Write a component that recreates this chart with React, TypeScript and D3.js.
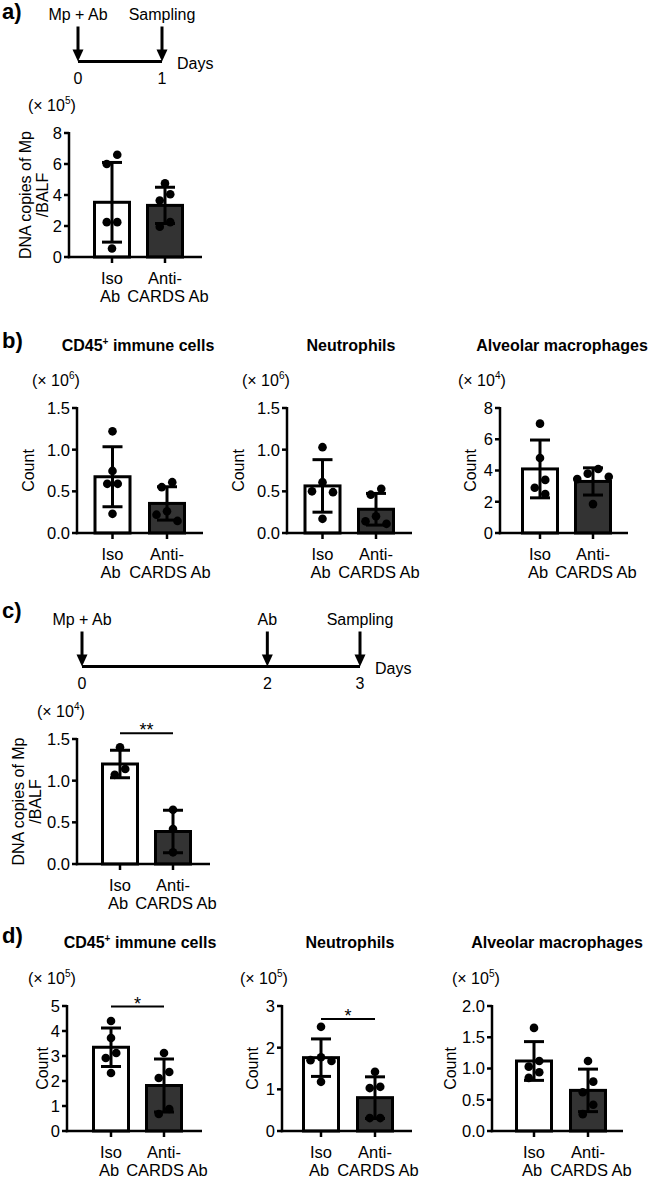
import React from "react";
import * as d3 from "d3";

// ---------- shared categories ----------
const categories = ["Iso Ab", "Anti-CARDS Ab"];
const categoryLines: Record<string, string[]> = {
  "Iso Ab": ["Iso", "Ab"],
  "Anti-CARDS Ab": ["Anti-", "CARDS Ab"],
};
const cellTypes = ["CD45⁺ immune cells", "Neutrophils", "Alveolar macrophages"];
const mpTitle = ["DNA copies of Mp", "/BALF"];
const countTitle = ["Count"];

// ---------- timelines ----------
const timelineADays = [0, 1];
const timelineAEvents = ["Mp + Ab", "Sampling"];
const timelineCDays = [0, 2, 3];
const timelineCEvents = ["Mp + Ab", "Ab", "Sampling"];

// ---------- a) Mp DNA, day 1 (x10^5) ----------
const aIso = [6.6, 6.0, 2.25, 2.25, 0.55];
const aAnti = [4.75, 4.05, 3.65, 2.25, 1.95];
const aMean = [3.53, 3.33];
const aSD = [2.57, 1.17];
const aTicks = [0, 2, 4, 6, 8];

// ---------- b) day 1 cells ----------
const bCd45Iso = [1.22, 0.745, 0.59, 0.59, 0.23];
const bCd45Anti = [0.61, 0.55, 0.26, 0.22, 0.145];
const bCd45Mean = [0.675, 0.355];
const bCd45SD = [0.36, 0.2];
const bNeuIso = [1.03, 0.61, 0.5, 0.49, 0.17];
const bNeuAnti = [0.53, 0.46, 0.2, 0.14, 0.11];
const bNeuMean = [0.565, 0.285];
const bNeuSD = [0.315, 0.19];
const bAmIso = [7.0, 4.8, 3.4, 2.9, 2.5];
const bAmAnti = [4.1, 3.8, 3.6, 3.45, 1.85];
const bAmMean = [4.1, 3.3];
const bAmSD = [1.85, 0.87];
const b106Ticks = [0, 0.5, 1.0, 1.5];
const bAmTicks = [0, 2, 4, 6, 8];

// ---------- c) Mp DNA, day 3 (x10^4) ----------
const cIso = [1.4, 1.14, 1.07];
const cAnti = [0.65, 0.42, 0.14];
const cMean = [1.2, 0.39];
const cSD = [0.165, 0.255];
const cTicks = [0, 0.5, 1.0, 1.5];

// ---------- d) day 3 cells (x10^5) ----------
const dCd45Iso = [4.4, 3.72, 3.12, 2.92, 2.32];
const dCd45Anti = [3.12, 2.36, 2.12, 0.88, 0.68];
const dCd45Mean = [3.35, 1.82];
const dCd45SD = [0.77, 1.06];
const dCd45Ticks = [0, 1, 2, 3, 4, 5];
const dNeuIso = [2.5, 1.77, 1.7, 1.68, 1.18];
const dNeuAnti = [1.42, 1.06, 1.03, 0.31, 0.31];
const dNeuMean = [1.76, 0.8];
const dNeuSD = [0.45, 0.5];
const dNeuTicks = [0, 1, 2, 3];
const dAmIso = [1.65, 1.12, 1.03, 0.94, 0.85];
const dAmAnti = [1.12, 0.79, 0.62, 0.42, 0.27];
const dAmMean = [1.12, 0.65];
const dAmSD = [0.31, 0.34];
const dAmTicks = [0, 0.5, 1.0, 1.5, 2.0];

// significance annotations: label and bracket height in data units
const cSig = { label: "**", at: 1.57 };
const dCd45Sig = { label: "*", at: 4.98 };
const dNeuSig = { label: "*", at: 2.69 };

// ---------- layout ----------
type Layout = {
  axisX: number; xEnd: number; c0: number; c1: number; yTop: number; yBot: number;
  unitX: number; titleXs: number[]; titleCx?: number; titleY?: number;
};
type Cfg = {
  iso: number[]; anti: number[]; mean: number[]; sd: number[]; ticks: number[];
  fmt: string; exp: string; yTitle: string[]; title?: string;
  sig?: { label: string; at: number }; L: Layout;
};

const FONT = "'Liberation Sans', Arial, Helvetica, sans-serif";

const charts: Cfg[] = [
  { iso: aIso, anti: aAnti, mean: aMean, sd: aSD, ticks: aTicks, fmt: "d", exp: "5", yTitle: mpTitle,
    L: { axisX: 69, xEnd: 202, c0: 112, c1: 165, yTop: 133, yBot: 257, unitX: 28, titleXs: [25, 42] } },
  { iso: bCd45Iso, anti: bCd45Anti, mean: bCd45Mean, sd: bCd45SD, ticks: b106Ticks, fmt: ".1f", exp: "6",
    yTitle: countTitle, title: cellTypes[0],
    L: { axisX: 77, xEnd: 203, c0: 112.5, c1: 167, yTop: 408, yBot: 533, unitX: 32, titleXs: [28], titleCx: 138, titleY: 351 } },
  { iso: bNeuIso, anti: bNeuAnti, mean: bNeuMean, sd: bNeuSD, ticks: b106Ticks, fmt: ".1f", exp: "6",
    yTitle: countTitle, title: cellTypes[1],
    L: { axisX: 287, xEnd: 412, c0: 322.5, c1: 376, yTop: 408, yBot: 533, unitX: 242, titleXs: [238], titleCx: 351, titleY: 351 } },
  { iso: bAmIso, anti: bAmAnti, mean: bAmMean, sd: bAmSD, ticks: bAmTicks, fmt: "d", exp: "4",
    yTitle: countTitle, title: cellTypes[2],
    L: { axisX: 500, xEnd: 628, c0: 540, c1: 593, yTop: 408, yBot: 533, unitX: 458, titleXs: [470], titleCx: 562, titleY: 351 } },
  { iso: cIso, anti: cAnti, mean: cMean, sd: cSD, ticks: cTicks, fmt: ".1f", exp: "4", yTitle: mpTitle, sig: cSig,
    L: { axisX: 77, xEnd: 210, c0: 120, c1: 173, yTop: 739, yBot: 864, unitX: 37, titleXs: [18, 35] } },
  { iso: dCd45Iso, anti: dCd45Anti, mean: dCd45Mean, sd: dCd45SD, ticks: dCd45Ticks, fmt: "d", exp: "5",
    yTitle: countTitle, title: cellTypes[0], sig: dCd45Sig,
    L: { axisX: 67, xEnd: 202, c0: 111, c1: 164, yTop: 1006, yBot: 1131, unitX: 28, titleXs: [42], titleCx: 140, titleY: 948 } },
  { iso: dNeuIso, anti: dNeuAnti, mean: dNeuMean, sd: dNeuSD, ticks: dNeuTicks, fmt: "d", exp: "5",
    yTitle: countTitle, title: cellTypes[1], sig: dNeuSig,
    L: { axisX: 282, xEnd: 412, c0: 321, c1: 375, yTop: 1006, yBot: 1131, unitX: 240, titleXs: [252], titleCx: 350, titleY: 948 } },
  { iso: dAmIso, anti: dAmAnti, mean: dAmMean, sd: dAmSD, ticks: dAmTicks, fmt: ".1f", exp: "5",
    yTitle: countTitle, title: cellTypes[2],
    L: { axisX: 492, xEnd: 623, c0: 534, c1: 588, yTop: 1006, yBot: 1131, unitX: 452, titleXs: [450], titleCx: 557, titleY: 948 } },
];

// Prism-like scatter: greedy placement in rows, then each touching cluster centred
function swarm(values: number[], y: (v: number) => number, s = 10.5, ty = 10.7): number[] {
  const order = values.map((_, i) => i).sort((a, b) => values[b] - values[a]);
  const placed: { i: number; py: number; dx: number }[] = [];
  const cands = [0, -s, s, -2 * s, 2 * s, -3 * s, 3 * s];
  for (const i of order) {
    const py = y(values[i]);
    let chosen = 0;
    for (const c of cands) {
      const hit = placed.some((p) => Math.abs(p.py - py) < ty && Math.abs(p.dx - c) < s * 0.9);
      if (!hit) { chosen = c; break; }
    }
    placed.push({ i, py, dx: chosen });
  }
  const parent = placed.map((_, k) => k);
  const find = (k: number): number => (parent[k] === k ? k : (parent[k] = find(parent[k])));
  for (let a = 0; a < placed.length; a++)
    for (let b = a + 1; b < placed.length; b++)
      if (Math.abs(placed[a].py - placed[b].py) < ty && Math.abs(placed[a].dx - placed[b].dx) <= s + 0.01)
        parent[find(a)] = find(b);
  const groups = d3.group(placed.map((p, k) => ({ ...p, k })), (p) => find(p.k));
  const out = new Array(values.length).fill(0);
  for (const g of groups.values()) {
    const ext = d3.extent(g, (p) => p.dx) as [number, number];
    const shift = -(ext[0] + ext[1]) / 2;
    for (const p of g) out[p.i] = p.dx + shift;
  }
  return out;
}

function Title({ text, x, y }: { text: string; x: number; y: number }) {
  const parts = text.split("⁺");
  return (
    <text x={x} y={y} textAnchor="middle" fontSize={16} fontWeight="bold">
      {parts[0]}
      {parts.length > 1 && (
        <>
          <tspan fontSize={10} dy={-6}>+</tspan>
          <tspan dy={6}>{parts[1]}</tspan>
        </>
      )}
    </text>
  );
}

function Chart({ c }: { c: Cfg }) {
  const L = c.L;
  const y = d3.scaleLinear().domain([0, c.ticks[c.ticks.length - 1]]).range([L.yBot, L.yTop]);
  const x = d3.scalePoint<string>().domain(categories).range([L.c0, L.c1]);
  const fmt = d3.format(c.fmt);
  const series = [c.iso, c.anti];
  const barW = 35;
  const r = 4.3;
  const capW = 10;
  const midY = (L.yTop + L.yBot) / 2;
  const line2Shift = [-2, 3];
  return (
    <g>
      <text x={L.unitX} y={L.yTop - 22} fontSize={16}>
        (× 10<tspan fontSize={10} dy={-7}>{c.exp}</tspan>
        <tspan dy={7}>)</tspan>
      </text>
      {c.yTitle.map((t, i) => (
        <text key={i} transform={`translate(${L.titleXs[i]},${midY}) rotate(-90)`} textAnchor="middle" dy="0.35em" fontSize={16}>
          {t}
        </text>
      ))}
      {categories.map((cat, k) => {
        const cx = x(cat)!;
        return (
          <rect key={cat} x={cx - barW / 2} y={y(c.mean[k])} width={barW} height={L.yBot - y(c.mean[k])}
            fill={k === 0 ? "#ffffff" : "#333333"} stroke="#000" strokeWidth={3} />
        );
      })}
      {categories.map((cat, k) => {
        const cx = x(cat)!;
        const off = swarm(series[k], y);
        return (
          <g key={cat}>
            {series[k].map((v, i) => (
              <circle key={i} cx={cx + off[i]} cy={y(v)} r={r} fill="#000" />
            ))}
          </g>
        );
      })}
      {categories.map((cat, k) => {
        const cx = x(cat)!;
        const hi = y(c.mean[k] + c.sd[k]);
        const lo = y(Math.max(0, c.mean[k] - c.sd[k]));
        return (
          <g key={cat} stroke="#000" strokeWidth={3}>
            <line x1={cx} x2={cx} y1={hi} y2={lo} />
            <line x1={cx - capW} x2={cx + capW} y1={hi} y2={hi} />
            <line x1={cx - capW} x2={cx + capW} y1={lo} y2={lo} />
          </g>
        );
      })}
      <line x1={L.axisX} x2={L.axisX} y1={L.yTop - 1} y2={L.yBot + 1.25} stroke="#000" strokeWidth={2.5} />
      <line x1={L.axisX - 1.25} x2={L.xEnd} y1={L.yBot} y2={L.yBot} stroke="#000" strokeWidth={2.5} />
      {c.ticks.map((t) => (
        <g key={t}>
          <line x1={L.axisX - 5} x2={L.axisX} y1={y(t)} y2={y(t)} stroke="#000" strokeWidth={2.5} />
          <text x={L.axisX - 7} y={y(t)} dy="0.36em" textAnchor="end" fontSize={16.5}>
            {fmt(t)}
          </text>
        </g>
      ))}
      {categories.map((cat, k) => {
        const cx = x(cat)!;
        return (
          <g key={cat}>
            <line x1={cx} x2={cx} y1={L.yBot} y2={L.yBot + 6} stroke="#000" strokeWidth={2.5} />
            {categoryLines[cat].map((ln, j) => (
              <text key={j} x={cx + (j === 1 ? line2Shift[k] : 0)} y={L.yBot + 26.5 + j * 18} textAnchor="middle" fontSize={16.5}>
                {ln}
              </text>
            ))}
          </g>
        );
      })}
      {c.sig && (
        <g>
          <line x1={x(categories[0])!} x2={x(categories[1])!} y1={y(c.sig.at)} y2={y(c.sig.at)} stroke="#000" strokeWidth={2} />
          <text x={(x(categories[0])! + x(categories[1])!) / 2} y={y(c.sig.at) + 3} textAnchor="middle" fontSize={18}>
            {c.sig.label}
          </text>
        </g>
      )}
      {c.title && <Title text={c.title} x={L.titleCx!} y={L.titleY!} />}
    </g>
  );
}

function Timeline({ days, events, range, lineY, maxDay }: {
  days: number[]; events: string[]; range: [number, number]; lineY: number; maxDay: number;
}) {
  const x = d3.scaleLinear().domain([0, maxDay]).range(range);
  return (
    <g>
      <line x1={range[0]} x2={range[1]} y1={lineY} y2={lineY} stroke="#000" strokeWidth={3} />
      {days.map((d, i) => {
        const px = x(d);
        return (
          <g key={i}>
            <line x1={px} x2={px} y1={lineY - 35} y2={lineY - 10} stroke="#000" strokeWidth={3} />
            <path d={`M${px - 5.5},${lineY - 12} L${px + 5.5},${lineY - 12} L${px},${lineY} Z`} fill="#000" />
            <text x={px} y={lineY - 42} textAnchor="middle" fontSize={16}>{events[i]}</text>
            <text x={px} y={lineY + 22} textAnchor="middle" fontSize={16}>{d}</text>
          </g>
        );
      })}
      <text x={range[1] + 15} y={lineY + 7} fontSize={16}>Days</text>
    </g>
  );
}

export default function App() {
  return (
    <svg width={650} height={1178} style={{ position: "absolute", left: 0, top: 0, background: "#fff" }}
      fontFamily={FONT} fill="#000">
      <rect width={650} height={1178} fill="#fff" />
      <text x={2} y={19} fontSize={22} fontWeight="bold">a)</text>
      <text x={2} y={348} fontSize={22} fontWeight="bold">b)</text>
      <text x={2} y={618} fontSize={22} fontWeight="bold">c)</text>
      <text x={2} y={943} fontSize={22} fontWeight="bold">d)</text>
      <Timeline days={timelineADays} events={timelineAEvents} range={[78, 162]} lineY={61.5} maxDay={1} />
      <Timeline days={timelineCDays} events={timelineCEvents} range={[82, 360]} lineY={666.5} maxDay={3} />
      {charts.map((c, i) => (
        <Chart key={i} c={c} />
      ))}
    </svg>
  );
}
